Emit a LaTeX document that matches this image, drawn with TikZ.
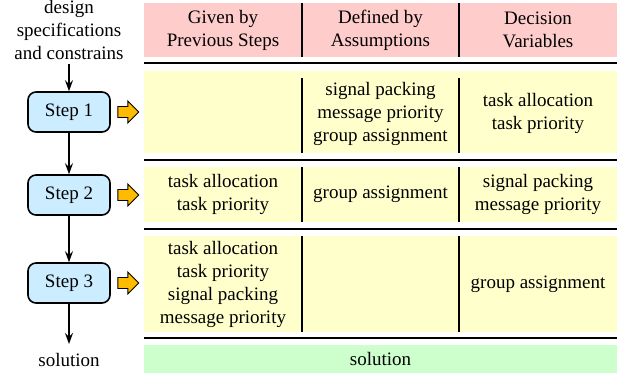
\documentclass[tikz,border=0pt]{standalone}
\usepackage{fontspec}
\setmainfont{Liberation Serif}
\newfontfamily\tnrfont{Liberation Serif}
\usetikzlibrary{arrows.meta,calc}
\definecolor{hdrpink}{HTML}{FFCCCC}
\definecolor{rowyel}{HTML}{FFFFCC}
\definecolor{solgreen}{HTML}{CCFFCC}
\definecolor{stepblue}{HTML}{CCECFF}
\definecolor{arrorange}{HTML}{FFBB00}
\begin{document}
\begin{tikzpicture}[x=1pt,y=-1pt,
  every node/.style={font=\tnrfont\fontsize{19}{23}\selectfont, align=center, inner sep=0pt},
  stepbox/.style={draw, line width=1.6pt, rounded corners=8pt, fill=stepblue, minimum width=82pt, minimum height=40pt},
  flow/.style={line width=1.3pt, -{Stealth[length=11pt,width=8pt,inset=4pt]}},
  rule/.style={line width=2.2pt},
  sep/.style={line width=2pt},
  blockarr/.style={draw, line width=0.9pt, fill=arrorange, line join=miter}
]
\useasboundingbox (0,0) rectangle (623,377);
% backgrounds
\fill[hdrpink] (144,3) rectangle (617,57);
\fill[rowyel] (144,71) rectangle (617,153);
\fill[rowyel] (144,167) rectangle (617,222);
\fill[rowyel] (144,236) rectangle (617,332);
\fill[solgreen] (144,345) rectangle (617,373);
% rules
\draw[rule] (144,63) -- (617,63);
\draw[rule] (144,160) -- (617,160);
\draw[rule] (144,229) -- (617,229);
\draw[rule] (144,338) -- (617,338);
% separators
\foreach \x in {302,459} {
  \draw[sep] (\x,3) -- (\x,57);
  \draw[sep] (\x,78) -- (\x,153);
  \draw[sep] (\x,167) -- (\x,222);
  \draw[sep] (\x,236) -- (\x,332);
}
% header
\node (h1) at (223,30) {Given by\\Previous Steps};
\node (h2) at (380.5,30) {Defined by\\Assumptions};
\node (h3) at (538,30) {Decision\\Variables};
% row 1
\node (r1b) at (380.5,113.5) {signal packing\\message priority\\group assignment};
\node (r1c) at (538,113.5) {task allocation\\task priority};
% row 2
\node (r2a) at (223,194.5) {task allocation\\task priority};
\node (r2b) at (380.5,194.5) {group assignment};
\node (r2c) at (538,194.5) {signal packing\\message priority};
% row 3
\node (r3a) at (223,284.5) {task allocation\\task priority\\signal packing\\message priority};
\node (r3c) at (538,284.5) {group assignment};
% solution row
\node (sol) at (380.5,359) {solution};
% left flow
\node (spec) at (69,30) {design\\specifications\\and constrains};
\node[stepbox] (s1) at (69,112) {Step 1};
\node[stepbox] (s2) at (69,195) {Step 2};
\node[stepbox] (s3) at (69,283) {Step 3};
\node (lsol) at (69,360) {solution};
\coordinate (solin) at (69,344);
\draw[flow] (69,64) -- (s1.north);
\draw[flow] (s1) -- (s2);
\draw[flow] (s2) -- (s3);
\draw[flow] (s3) -- (solin);
% block arrows
\foreach \s in {s1,s2,s3} {
  \draw[blockarr] ($(\s.east)+(7,-5.5)$) -- ++(10,0) -- ++(0,-5.5) -- ++(11,11) -- ++(-11,11) -- ++(0,-5.5) -- ++(-10,0) -- cycle;
}
\end{tikzpicture}
\end{document}
